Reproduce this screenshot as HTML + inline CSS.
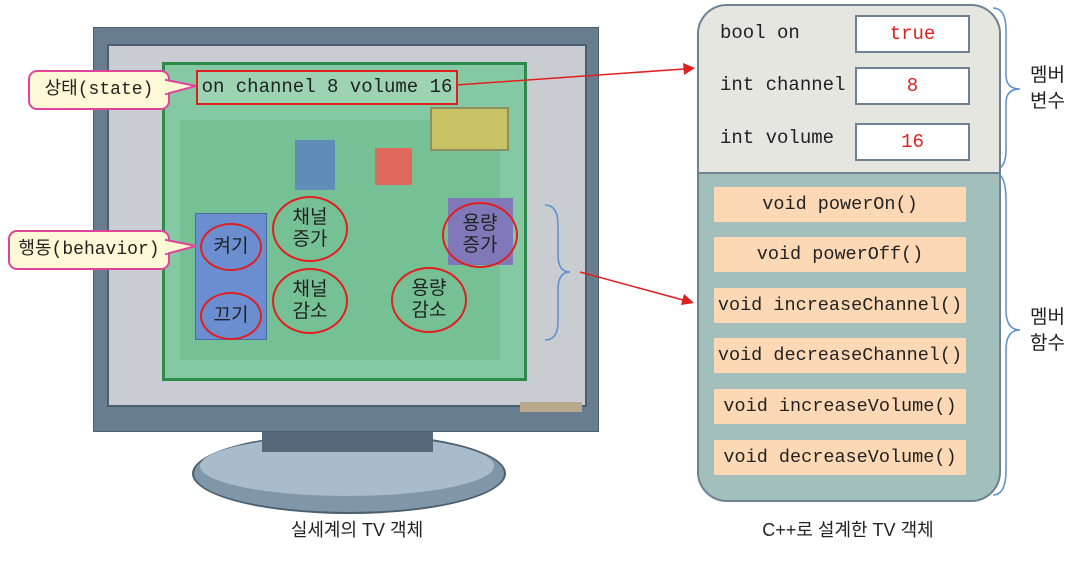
<!DOCTYPE html>
<html><head><meta charset="utf-8"><style>
body{margin:0;width:1086px;height:562px;background:#fff;overflow:hidden;position:relative;font-family:"Liberation Sans","Noto Sans CJK KR",sans-serif}
.a{position:absolute}
.mono{font-family:"Liberation Mono","Noto Sans CJK KR",monospace}
.val{position:absolute;left:855px;width:111px;height:34px;background:#fff;border:2px solid #6f8294;color:#e02020;font-size:19px;text-align:center;line-height:34px;font-family:"Liberation Mono",monospace}
.lbl{position:absolute;left:720px;font-size:19px;color:#222}
.m{position:absolute;left:714px;width:252px;height:35px;background:#fdd8b4;font-size:18.5px;text-align:center;line-height:35px;color:#222}
.el{position:absolute;border:2px solid #e02020;border-radius:50%;text-align:center;color:#222;font-size:19px;line-height:22px;display:flex;align-items:center;justify-content:center}
.call{position:absolute;background:#fdf8d6;border:2px solid #e0449a;border-radius:9px;font-size:18px;color:#222;line-height:36px;padding:0;white-space:nowrap}
</style></head><body>
<div class="a" style="left:192px;top:433px;width:310px;height:77px;border-radius:50%;background:#7f97a8;border:2px solid #4b5f6e"></div>
<div class="a" style="left:200px;top:436px;width:294px;height:60px;border-radius:50%;background:#a8bccb"></div>
<div class="a" style="left:262px;top:420px;width:171px;height:32px;background:#55697a"></div>
<div class="a" style="left:93px;top:27px;width:504px;height:403px;background:#687e8f;border:1px solid #4b5f6e"></div>
<div class="a" style="left:107px;top:44px;width:476px;height:359px;background:#c9cdd1;border:2px solid #4b5f6e"></div>
<div class="a" style="left:162px;top:62px;width:359px;height:313px;background:#85c9a4;border:3px solid #2e8a4a"></div>
<div class="a" style="left:180px;top:120px;width:320px;height:240px;background:#6dbb8e;opacity:.6"></div>
<div class="a" style="left:195px;top:213px;width:70px;height:125px;background:#6b8ed0;border:1px solid #4c6aa8"></div>
<div class="a" style="left:448px;top:198px;width:65px;height:67px;background:#8078b8"></div>
<div class="a" style="left:375px;top:148px;width:37px;height:37px;background:#e0695e"></div>
<div class="a" style="left:430px;top:107px;width:75px;height:40px;background:#c9c264;border:2px solid #8a9060"></div>
<div class="a" style="left:295px;top:140px;width:40px;height:50px;background:#5a7fc0;opacity:.8"></div>
<div class="a" style="left:520px;top:402px;width:62px;height:10px;background:#b8a88c"></div>
<div class="a mono" style="left:196px;top:70px;width:258px;height:31px;border:2px solid #e02020;font-size:19px;line-height:31px;text-align:center;color:#222;background:rgba(200,230,210,.35)">on channel 8 volume 16</div>
<div class="el" style="left:200px;top:223px;width:58px;height:44px">켜기</div>
<div class="el" style="left:200px;top:292px;width:58px;height:44px">끄기</div>
<div class="el" style="left:272px;top:196px;width:72px;height:62px">채널<br>증가</div>
<div class="el" style="left:272px;top:268px;width:72px;height:62px">채널<br>감소</div>
<div class="el" style="left:442px;top:202px;width:72px;height:62px">용량<br>증가</div>
<div class="el" style="left:391px;top:267px;width:72px;height:62px">용량<br>감소</div>
<div class="call mono" style="left:28px;top:70px;width:138px;text-align:center">상태(state)</div>
<div class="call mono" style="left:8px;top:230px;width:158px;text-align:center">행동(behavior)</div>
<svg class="a" style="left:0;top:0" width="1086" height="562">
<polygon points="166,80 196,86 166,94" fill="#fdf8d6" stroke="#e0449a" stroke-width="2"/>
<polygon points="166,240 196,246 166,254" fill="#fdf8d6" stroke="#e0449a" stroke-width="2"/>
<rect x="164" y="81" width="4" height="12" fill="#fdf8d6"/>
<rect x="164" y="241" width="4" height="12" fill="#fdf8d6"/>
<path d="M545,205 Q558,205 558,225 L558,255 Q558,272 570,272 Q558,272 558,290 L558,322 Q558,340 545,340" fill="none" stroke="#5a8fd0" stroke-width="1.5"/>
<line x1="456" y1="85" x2="684" y2="69" stroke="#e02020" stroke-width="1.5"/>
<polygon points="695,68 683,63 684,75" fill="#e02020"/>
<line x1="580" y1="272" x2="683" y2="300" stroke="#e02020" stroke-width="1.5"/>
<polygon points="694,303 684,294 681,305" fill="#e02020"/>
<path d="M993,8 Q1006,8 1006,30 L1006,75 Q1006,89 1020,89 Q1006,89 1006,103 L1006,150 Q1006,170 993,170" fill="none" stroke="#5a8fd0" stroke-width="1.5"/>
<path d="M993,172 Q1006,172 1006,200 L1006,310 Q1006,330 1020,330 Q1006,330 1006,350 L1006,470 Q1006,495 993,495" fill="none" stroke="#5a8fd0" stroke-width="1.5"/>
</svg>
<div class="a" style="left:697px;top:4px;width:300px;height:494px;border:2px solid #6f8294;border-radius:30px;overflow:hidden;background:#a2bfbc">
<div style="height:166px;background:#e6e6e0;border-bottom:2px solid #6f8294"></div></div>
<div class="lbl mono" style="top:22px">bool on</div>
<div class="lbl mono" style="top:74px">int channel</div>
<div class="lbl mono" style="top:127px">int volume</div>
<div class="val" style="top:15px">true</div>
<div class="val" style="top:67px">8</div>
<div class="val" style="top:123px">16</div>
<div class="m mono" style="top:187px">void powerOn()</div>
<div class="m mono" style="top:237px">void powerOff()</div>
<div class="m mono" style="top:288px">void increaseChannel()</div>
<div class="m mono" style="top:338px">void decreaseChannel()</div>
<div class="m mono" style="top:389px">void increaseVolume()</div>
<div class="m mono" style="top:440px">void decreaseVolume()</div>
<div class="a" style="left:1030px;top:63px;font-size:19px;line-height:26px;color:#222">멤버<br>변수</div>
<div class="a" style="left:1030px;top:305px;font-size:19px;line-height:26px;color:#222">멤버<br>함수</div>
<div class="a" style="left:257px;top:516px;width:200px;text-align:center;font-size:18px;color:#222">실세계의 TV 객체</div>
<div class="a" style="left:730px;top:516px;width:236px;text-align:center;font-size:18px;color:#222">C++로 설계한 TV 객체</div>
</body></html>
